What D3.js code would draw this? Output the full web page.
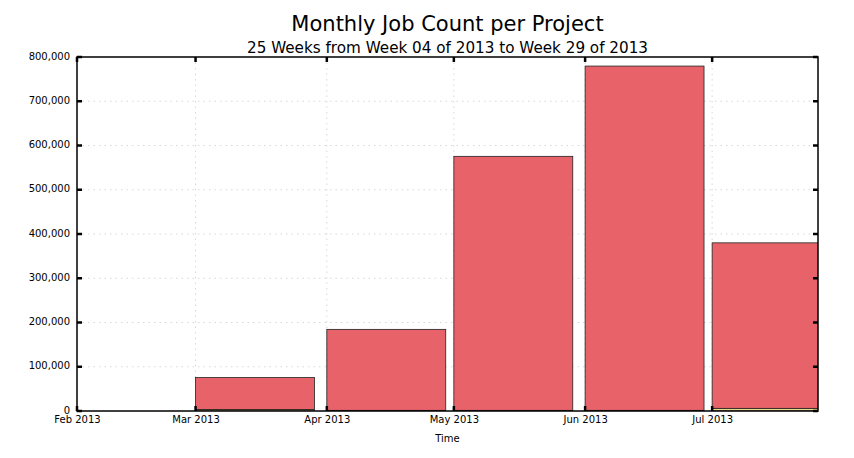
<!DOCTYPE html>
<html><head><meta charset="utf-8">
<script src="https://cdn.jsdelivr.net/npm/d3@7"></script>
<style>body{margin:0;background:#fff}svg{display:block}text{font-family:"DejaVu Sans",sans-serif}</style>
</head><body>
<svg id="c" width="854" height="458"></svg>
<script>
const months = ["2013-03-01","2013-04-01","2013-05-01","2013-06-01","2013-07-01"];
const seriesNames = ["Project B","Project A"];
const projectB = [3500, 1500, 1500, 1500, 6000];
const projectA = [72000, 183000, 574000, 778000, 374000];
const seriesColors = ["#e9d98c","#e76369"];
const yTicks = [0,100000,200000,300000,400000,500000,600000,700000,800000];
const xTicks = ["2013-02-01","2013-03-01","2013-04-01","2013-05-01","2013-06-01","2013-07-01"];
const title = "Monthly Job Count per Project";
const subtitle = "25 Weeks from Week 04 of 2013 to Week 29 of 2013";
const xLabel = "Time";

const svg = d3.select("#c");
const L=77,R=818,T=57,B=411;
const parse = d3.utcParse("%Y-%m-%d");
const x = d3.scaleUtc().domain([parse("2013-02-01"), parse("2013-07-26")]).range([L,R]);
const y = d3.scaleLinear().domain([0,800000]).range([B,T]);
const fmtX = d3.utcFormat("%b %Y");
const fmtY = d3.format(",");

svg.append("defs").append("clipPath").attr("id","clip").append("rect")
  .attr("x",L).attr("y",T).attr("width",R-L).attr("height",B-T);

// grid
const g = svg.append("g");
g.selectAll(".gy").data(yTicks.slice(1,-1)).join("line")
  .attr("x1",L).attr("x2",R).attr("y1",d=>y(d)).attr("y2",d=>y(d))
  .attr("stroke","#d8d8d8").attr("stroke-width",1).attr("stroke-dasharray","1.5,4");
g.selectAll(".gx").data(xTicks.slice(1)).join("line")
  .attr("x1",d=>x(parse(d))).attr("x2",d=>x(parse(d))).attr("y1",T).attr("y2",B)
  .attr("stroke","#d8d8d8").attr("stroke-width",1).attr("stroke-dasharray","1.5,4");

// stacked bars
const data = months.map((m,i)=>({date:parse(m), "Project B":projectB[i], "Project A":projectA[i]}));
const stack = d3.stack().keys(seriesNames)(data);
const barDays = 28.1;
const bars = svg.append("g").attr("clip-path","url(#clip)");
stack.forEach((s,si)=>{
  bars.selectAll(null).data(s).join("rect")
    .attr("x",d=>x(d.data.date))
    .attr("width",d=>x(d3.utcHour.offset(d.data.date, barDays*24))-x(d.data.date))
    .attr("y",d=>y(d[1]))
    .attr("height",d=>y(d[0])-y(d[1]))
    .attr("fill",seriesColors[si])
    .attr("stroke","#222").attr("stroke-width",0.8);
});

// frame
svg.append("rect").attr("x",L).attr("y",T).attr("width",R-L).attr("height",B-T)
  .attr("fill","none").attr("stroke","#000").attr("stroke-width",1.5);

// axes
const yAxis = d3.axisLeft(y).tickValues(yTicks).tickFormat(fmtY).tickSize(0).tickPadding(7);
const ya = svg.append("g").attr("transform",`translate(${L},-1)`).call(yAxis);
ya.select(".domain").remove();
ya.selectAll("text").attr("font-size",10).attr("fill","#000").attr("font-family","DejaVu Sans");
const xAxis = d3.axisBottom(x).tickValues(xTicks.map(parse)).tickFormat(fmtX).tickSize(0).tickPadding(5);
const xa = svg.append("g").attr("transform",`translate(0,${B})`).call(xAxis);
xa.select(".domain").remove();
xa.selectAll("text").attr("font-size",10).attr("fill","#000").attr("font-family","DejaVu Sans");

// inward tick marks
const tk = svg.append("g").attr("stroke","#000").attr("stroke-width",2.5);
tk.selectAll(".tl").data(yTicks).join("line").attr("x1",L).attr("x2",L+5).attr("y1",d=>y(d)).attr("y2",d=>y(d));
tk.selectAll(".tr").data(yTicks).join("line").attr("x1",R).attr("x2",R-5).attr("y1",d=>y(d)).attr("y2",d=>y(d));
tk.selectAll(".tb").data(xTicks).join("line").attr("x1",d=>x(parse(d))).attr("x2",d=>x(parse(d))).attr("y1",B).attr("y2",B-5);
tk.selectAll(".tt").data(xTicks).join("line").attr("x1",d=>x(parse(d))).attr("x2",d=>x(parse(d))).attr("y1",T).attr("y2",T+5);

// titles
svg.append("text").attr("x",(L+R)/2).attr("y",31).attr("text-anchor","middle").attr("font-size",21).text(title);
svg.append("text").attr("x",(L+R)/2).attr("y",53).attr("text-anchor","middle").attr("font-size",15.2).text(subtitle);
svg.append("text").attr("x",(L+R)/2).attr("y",442).attr("text-anchor","middle").attr("font-size",10).text(xLabel);
</script>
</body></html>
